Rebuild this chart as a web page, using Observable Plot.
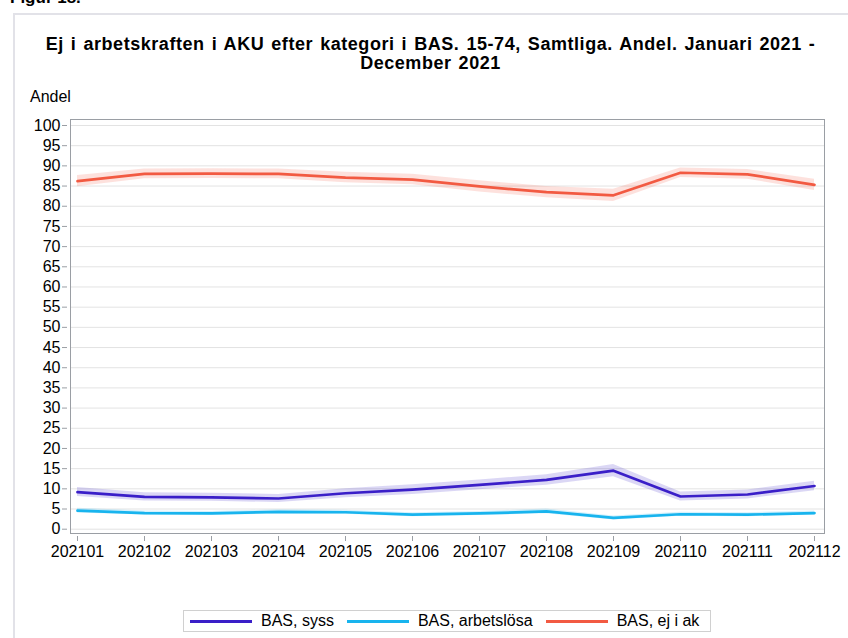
<!DOCTYPE html>
<html>
<head>
<meta charset="utf-8">
<script src="https://cdn.jsdelivr.net/npm/d3@7"></script>
<script src="https://cdn.jsdelivr.net/npm/@observablehq/plot@0.6"></script>
<style>
  html, body { margin: 0; padding: 0; background: #fff; }
  body { width: 848px; height: 638px; position: relative; overflow: hidden; font-family: "Liberation Sans", Arial, sans-serif; color: #000; }
  #figur { position: absolute; left: 10px; top: -12px; font-weight: bold; font-size: 17px; }
  #box { position: absolute; left: 13px; top: 13px; width: 900px; height: 700px; border: 2px solid #e2e2e8; box-sizing: border-box; }
  #title { position: absolute; left: 13px; width: 835px; top: 35px; text-align: center; font-weight: bold; font-size: 18px; line-height: 19px; letter-spacing: 0.55px; word-spacing: 1.5px; }
  #ylabel { position: absolute; left: 30px; top: 88px; font-size: 16px; }
  #chart { position: absolute; left: 0; top: 0; }
  #legend { position: absolute; left: 183px; top: 610px; width: 528px; height: 22px; border: 1px solid #d0d0d0; box-sizing: border-box; display: flex; align-items: center; font-size: 16px; white-space: nowrap; }
  #legend span { flex-shrink: 0; }
  .sw { display: inline-block; width: 62px; height: 3px; margin-left: 13px; margin-right: 9px; }
  .sw.first { margin-left: 6px; }
</style>
</head>
<body>
<div id="figur">Figur 18.</div>
<div id="box"></div>
<div id="chart"></div>
<div id="title">Ej i arbetskraften i AKU efter kategori i BAS. 15-74, Samtliga. Andel. Januari 2021 -<br>December 2021</div>
<div id="ylabel">Andel</div>
<div id="legend"></div>
<script>
const months = ["202101","202102","202103","202104","202105","202106","202107","202108","202109","202110","202111","202112"];
const yTicks = [0,5,10,15,20,25,30,35,40,45,50,55,60,65,70,75,80,85,90,95,100];

const syss       = [9.2, 8.0, 7.9, 7.6, 8.9, 9.8, 11.0, 12.2, 14.5, 8.1, 8.6, 10.7];
const arbetslosa = [4.6, 4.0, 3.9, 4.3, 4.2, 3.6, 3.9, 4.4, 2.8, 3.7, 3.6, 4.0];
const ejIAk      = [86.2, 88.0, 88.1, 88.0, 87.1, 86.6, 84.9, 83.5, 82.7, 88.3, 87.9, 85.3];

const syssMargin = [1.1, 1.0, 1.0, 1.0, 1.1, 1.2, 1.2, 1.3, 1.5, 1.1, 1.1, 1.2];
const arbMargin  = [0.6, 0.5, 0.5, 0.5, 0.5, 0.5, 0.5, 0.6, 0.5, 0.5, 0.5, 0.5];
const ejMargin   = [1.4, 1.2, 1.2, 1.2, 1.3, 1.3, 1.4, 1.4, 1.5, 1.2, 1.2, 1.4];

const seriesNames = ["BAS, syss", "BAS, arbetslösa", "BAS, ej i ak"];
const seriesColors = ["#3a1fc8", "#18b4ee", "#f25a42"];
const seriesValues = [syss, arbetslosa, ejIAk];
const seriesMargins = [syssMargin, arbMargin, ejMargin];

const data = [];
seriesNames.forEach((name, s) => {
  months.forEach((m, i) => {
    data.push({series: name, month: m, value: seriesValues[s][i],
               lo: seriesValues[s][i] - seriesMargins[s][i],
               hi: seriesValues[s][i] + seriesMargins[s][i]});
  });
});

const plot = Plot.plot({
  width: 848,
  height: 570,
  marginLeft: 70,
  marginRight: 24,
  marginTop: 119,
  marginBottom: 37,
  style: {fontFamily: "'Liberation Sans', Arial, sans-serif", fontSize: "16px", color: "#000", background: "transparent", overflow: "visible"},
  x: {type: "point", domain: months, range: [73, 817], padding: 0, align: 0.5},
  y: {domain: [0, 100], range: [528.7, 125]},
  color: {domain: seriesNames, range: seriesColors},
  marks: [
    Plot.gridY(yTicks, {stroke: "#e3e3e3", strokeOpacity: 1, strokeWidth: 1}),
    Plot.areaY(data, {x: "month", y1: "lo", y2: "hi", z: "series", fill: "series", fillOpacity: 0.18}),
    Plot.line(data, {x: "month", y: "value", z: "series", stroke: "series", strokeWidth: 2.7}),
    Plot.frame({stroke: "#9a9ea4", strokeWidth: 1}),
    Plot.axisY(yTicks, {label: null, tickSize: 5, tickPadding: 2, dx: -3, stroke: "#9a9ea4", fontSize: 16}),
    Plot.axisX(months, {label: null, tickSize: 5, tickPadding: 4, dy: 3, stroke: "#9a9ea4", fontSize: 16})
  ]
});
document.getElementById("chart").appendChild(plot);

const legend = document.getElementById("legend");
seriesNames.forEach((name, s) => {
  const sw = document.createElement("span");
  sw.className = s === 0 ? "sw first" : "sw";
  sw.style.background = seriesColors[s];
  legend.appendChild(sw);
  const t = document.createElement("span");
  t.textContent = name;
  legend.appendChild(t);
});
</script>
</body>
</html>
